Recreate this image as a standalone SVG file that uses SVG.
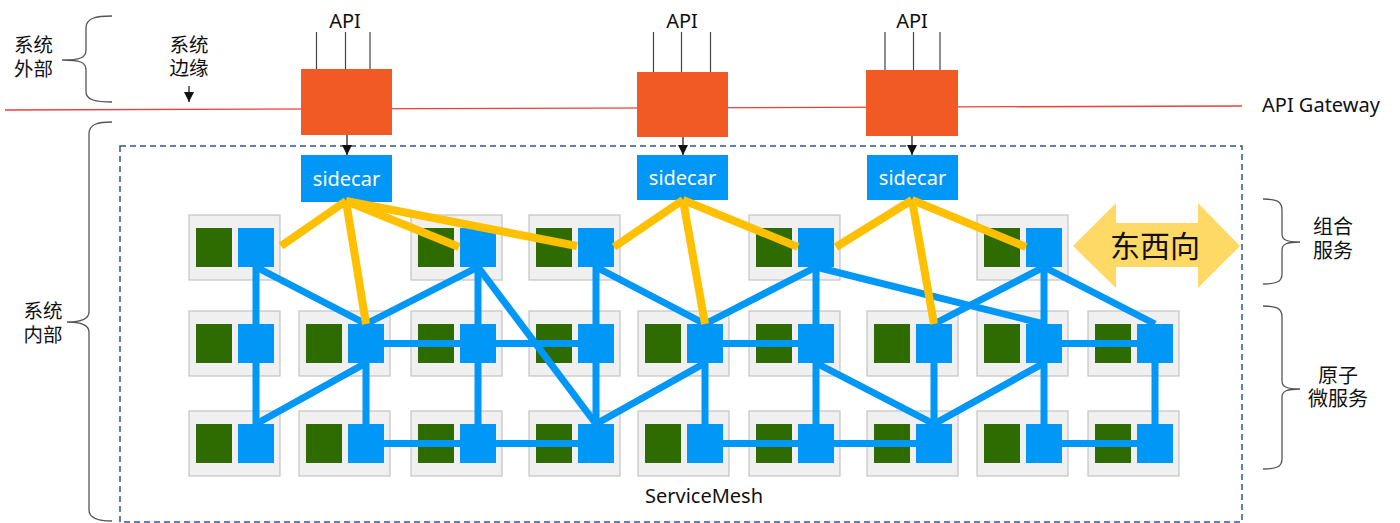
<svg xmlns="http://www.w3.org/2000/svg" width="1400" height="523" viewBox="0 0 1400 523">
<defs>
<marker id="ah" viewBox="0 0 10 10" refX="10" refY="5" markerWidth="10" markerHeight="10" markerUnits="userSpaceOnUse" orient="auto">
<path d="M0,0 L10,5 L0,10 Z" fill="#111"/>
</marker>
</defs>
<style>
.cjk{font-family:"Liberation Sans","Noto Sans CJK SC",sans-serif;fill:#111;}
.lat{font-family:"Noto Sans","Open Sans","Liberation Sans",sans-serif;fill:#111;}
.cell{fill:#F0F0F0;stroke:#C4C4C4;stroke-width:1.2;}
.gr{fill:#2E6B00;}
.bl{fill:#0097F6;}
.gw{fill:#F15A24;}
.sc{fill:#0097F6;}
.brace{fill:none;stroke:#555;stroke-width:1.3;}
.bline{stroke:#0097F6;stroke-width:7;fill:none;}
.yline{stroke:#FFC000;stroke-width:8;fill:none;}
.api{stroke:#444;stroke-width:1.2;}
.arr{stroke:#111;stroke-width:1.2;marker-end:url(#ah);}
</style>
<rect width="1400" height="523" fill="#fff"/>

<!-- service mesh boundary -->
<g id="servicemesh">
<rect x="120" y="146" width="1122" height="376" fill="none" stroke="#2F5597" stroke-width="1.5" stroke-dasharray="6 4"/>
<text class="lat" x="704" y="503" font-size="20" text-anchor="middle">ServiceMesh</text>
</g>

<!-- gateway line -->
<g id="gateway-line">
<line x1="5" y1="110" x2="1242" y2="106" stroke="#F03C3C" stroke-width="1.3"/>
<text class="lat" x="1262" y="112" font-size="20">API Gateway</text>
</g>

<!-- left labels -->
<g id="label-outside">
<path class="brace" d="M112,16 C96,16 86,18 86,28 L86,50 C86,58 80,60 62,60 C80,60 86,62 86,70 L86,92 C86,100 96,102 112,102"/>
<text class="cjk" x="33.5" y="52" font-size="19.5" text-anchor="middle">系统</text>
<text class="cjk" x="33.5" y="76" font-size="19.5" text-anchor="middle">外部</text>
</g>
<g id="label-edge">
<text class="cjk" x="189" y="52" font-size="19.5" text-anchor="middle">系统</text>
<text class="cjk" x="189" y="75" font-size="19.5" text-anchor="middle">边缘</text>
<line class="arr" x1="189" y1="86" x2="189" y2="102"/>
</g>
<g id="label-inside">
<path class="brace" d="M112,122 C98,122 89,124 89,134 L89,312 C89,319 82,322 67,322 C82,322 89,325 89,332 L89,510 C89,518 98,521 112,521"/>
<text class="cjk" x="43" y="318" font-size="19.5" text-anchor="middle">系统</text>
<text class="cjk" x="43" y="342" font-size="19.5" text-anchor="middle">内部</text>
</g>

<!-- right labels -->
<g id="label-composite">
<path class="brace" d="M1263,199 C1276,199 1282,201 1282,210 L1282,234 C1282,240 1287,242 1300,242 C1287,242 1282,244 1282,250 L1282,274 C1282,282 1276,284 1263,284"/>
<text class="cjk" x="1333" y="234" font-size="20" text-anchor="middle">组合</text>
<text class="cjk" x="1333" y="258" font-size="20" text-anchor="middle">服务</text>
</g>
<g id="label-atomic">
<path class="brace" d="M1263,306 C1276,306 1282,308 1282,317 L1282,381 C1282,387 1287,389 1300,389 C1287,389 1282,391 1282,397 L1282,459 C1282,467 1276,469 1263,469"/>
<text class="cjk" x="1338" y="383" font-size="20" text-anchor="middle">原子</text>
<text class="cjk" x="1338" y="406" font-size="20" text-anchor="middle">微服务</text>
</g>

<!-- east-west arrow -->
<g id="east-west">
<polygon points="1073,246 1116,203 1116,223 1198,223 1198,203 1240,246 1198,288 1198,267 1116,267 1116,288" fill="#FFD966"/>
<text class="cjk" x="1155" y="257" font-size="30" text-anchor="middle">东西向</text>
</g>

<!-- gateways -->
<g id="gateway1"><rect class="gw" x="301" y="69" width="91" height="66"/><text class="lat" x="345" y="28" font-size="20" text-anchor="middle">API</text></g>
<g id="gateway2"><rect class="gw" x="637" y="72" width="91" height="65"/><text class="lat" x="682" y="28" font-size="20" text-anchor="middle">API</text></g>
<g id="gateway3"><rect class="gw" x="866" y="70" width="92" height="66"/><text class="lat" x="912" y="28" font-size="20" text-anchor="middle">API</text></g>

<!-- sidecars -->
<g id="sidecar1"><rect class="sc" x="301" y="155" width="91" height="47"/><text class="lat" x="346.5" y="186" font-size="20" style="fill:#fff" text-anchor="middle">sidecar</text></g>
<g id="sidecar2"><rect class="sc" x="637" y="155" width="91" height="45"/><text class="lat" x="682.5" y="185" font-size="20" style="fill:#fff" text-anchor="middle">sidecar</text></g>
<g id="sidecar3"><rect class="sc" x="867" y="155" width="91" height="45"/><text class="lat" x="912.5" y="185" font-size="20" style="fill:#fff" text-anchor="middle">sidecar</text></g>

<!-- service cells row 1 -->
<g id="r1c0"><rect class="cell" x="189" y="215" width="91" height="65"/><rect class="gr" x="196" y="228" width="36" height="39"/><rect class="bl" x="238" y="228" width="36" height="39"/></g>
<g id="r1c2"><rect class="cell" x="411" y="215" width="91" height="65"/><rect class="gr" x="418" y="228" width="36" height="39"/><rect class="bl" x="460" y="228" width="36" height="39"/></g>
<g id="r1c3"><rect class="cell" x="529" y="215" width="91" height="65"/><rect class="gr" x="536" y="228" width="36" height="39"/><rect class="bl" x="578" y="228" width="36" height="39"/></g>
<g id="r1c5"><rect class="cell" x="749" y="215" width="91" height="65"/><rect class="gr" x="756" y="228" width="36" height="39"/><rect class="bl" x="798" y="228" width="36" height="39"/></g>
<g id="r1c7"><rect class="cell" x="977" y="215" width="91" height="65"/><rect class="gr" x="984" y="228" width="36" height="39"/><rect class="bl" x="1026" y="228" width="36" height="39"/></g>

<!-- row 2 -->
<g id="r2c0"><rect class="cell" x="189" y="311" width="91" height="65"/><rect class="gr" x="196" y="324" width="36" height="39"/><rect class="bl" x="238" y="324" width="36" height="39"/></g>
<g id="r2c1"><rect class="cell" x="299" y="311" width="91" height="65"/><rect class="gr" x="306" y="324" width="36" height="39"/><rect class="bl" x="348" y="324" width="36" height="39"/></g>
<g id="r2c2"><rect class="cell" x="411" y="311" width="91" height="65"/><rect class="gr" x="418" y="324" width="36" height="39"/><rect class="bl" x="460" y="324" width="36" height="39"/></g>
<g id="r2c3"><rect class="cell" x="529" y="311" width="91" height="65"/><rect class="gr" x="536" y="324" width="36" height="39"/><rect class="bl" x="578" y="324" width="36" height="39"/></g>
<g id="r2c4"><rect class="cell" x="638" y="311" width="91" height="65"/><rect class="gr" x="645" y="324" width="36" height="39"/><rect class="bl" x="687" y="324" width="36" height="39"/></g>
<g id="r2c5"><rect class="cell" x="749" y="311" width="91" height="65"/><rect class="gr" x="756" y="324" width="36" height="39"/><rect class="bl" x="798" y="324" width="36" height="39"/></g>
<g id="r2c6"><rect class="cell" x="867" y="311" width="91" height="65"/><rect class="gr" x="874" y="324" width="36" height="39"/><rect class="bl" x="916" y="324" width="36" height="39"/></g>
<g id="r2c7"><rect class="cell" x="977" y="311" width="91" height="65"/><rect class="gr" x="984" y="324" width="36" height="39"/><rect class="bl" x="1026" y="324" width="36" height="39"/></g>
<g id="r2c8"><rect class="cell" x="1088" y="311" width="91" height="65"/><rect class="gr" x="1095" y="324" width="36" height="39"/><rect class="bl" x="1137" y="324" width="36" height="39"/></g>

<!-- row 3 -->
<g id="r3c0"><rect class="cell" x="189" y="411" width="91" height="65"/><rect class="gr" x="196" y="424" width="36" height="39"/><rect class="bl" x="238" y="424" width="36" height="39"/></g>
<g id="r3c1"><rect class="cell" x="299" y="411" width="91" height="65"/><rect class="gr" x="306" y="424" width="36" height="39"/><rect class="bl" x="348" y="424" width="36" height="39"/></g>
<g id="r3c2"><rect class="cell" x="411" y="411" width="91" height="65"/><rect class="gr" x="418" y="424" width="36" height="39"/><rect class="bl" x="460" y="424" width="36" height="39"/></g>
<g id="r3c3"><rect class="cell" x="529" y="411" width="91" height="65"/><rect class="gr" x="536" y="424" width="36" height="39"/><rect class="bl" x="578" y="424" width="36" height="39"/></g>
<g id="r3c4"><rect class="cell" x="638" y="411" width="91" height="65"/><rect class="gr" x="645" y="424" width="36" height="39"/><rect class="bl" x="687" y="424" width="36" height="39"/></g>
<g id="r3c5"><rect class="cell" x="749" y="411" width="91" height="65"/><rect class="gr" x="756" y="424" width="36" height="39"/><rect class="bl" x="798" y="424" width="36" height="39"/></g>
<g id="r3c6"><rect class="cell" x="867" y="411" width="91" height="65"/><rect class="gr" x="874" y="424" width="36" height="39"/><rect class="bl" x="916" y="424" width="36" height="39"/></g>
<g id="r3c7"><rect class="cell" x="977" y="411" width="91" height="65"/><rect class="gr" x="984" y="424" width="36" height="39"/><rect class="bl" x="1026" y="424" width="36" height="39"/></g>
<g id="r3c8"><rect class="cell" x="1088" y="411" width="91" height="65"/><rect class="gr" x="1095" y="424" width="36" height="39"/><rect class="bl" x="1137" y="424" width="36" height="39"/></g>

<!-- connectors -->
<g id="connectors">
<g id="api-inputs" class="api">
<line x1="316.5" y1="32" x2="316.5" y2="69"/><line x1="345.5" y1="32" x2="345.5" y2="69"/><line x1="370" y1="32" x2="370" y2="69"/>
<line x1="653.5" y1="32" x2="653.5" y2="72"/><line x1="681.5" y1="32" x2="681.5" y2="72"/><line x1="710.5" y1="32" x2="710.5" y2="72"/>
<line x1="885" y1="32" x2="885" y2="70"/><line x1="913.5" y1="32" x2="913.5" y2="70"/><line x1="940" y1="32" x2="940" y2="70"/>
</g>
<g id="gw-to-sidecar">
<line class="arr" x1="347" y1="135" x2="347" y2="155"/>
<line class="arr" x1="683" y1="137" x2="683" y2="155"/>
<line class="arr" x1="912" y1="136" x2="912" y2="155"/>
</g>
<g id="mesh-links" class="bline">
<line x1="256" y1="247" x2="256" y2="443.5"/>
<line x1="366" y1="343.5" x2="366" y2="443.5"/>
<line x1="478" y1="247" x2="478" y2="443.5"/>
<line x1="596" y1="247" x2="596" y2="443.5"/>
<line x1="705" y1="343.5" x2="705" y2="443.5"/>
<line x1="816" y1="247" x2="816" y2="443.5"/>
<line x1="934" y1="343.5" x2="934" y2="443.5"/>
<line x1="1044" y1="247" x2="1044" y2="443.5"/>
<line x1="1155" y1="343.5" x2="1155" y2="443.5"/>
<line x1="366" y1="343.5" x2="596" y2="343.5"/>
<line x1="705" y1="343.5" x2="816" y2="343.5"/>
<line x1="1044" y1="343.5" x2="1155" y2="343.5"/>
<line x1="366" y1="443.5" x2="596" y2="443.5"/>
<line x1="705" y1="443.5" x2="934" y2="443.5"/>
<line x1="1044" y1="443.5" x2="1155" y2="443.5"/>
<line x1="256" y1="267" x2="366" y2="324"/>
<line x1="256" y1="424" x2="366" y2="363"/>
<line x1="366" y1="324" x2="478" y2="267"/>
<line x1="478" y1="267" x2="596" y2="424"/>
<line x1="596" y1="424" x2="705" y2="363"/>
<line x1="596" y1="267" x2="705" y2="324"/>
<line x1="705" y1="324" x2="816" y2="267"/>
<line x1="816" y1="363" x2="934" y2="424"/>
<line x1="934" y1="324" x2="1044" y2="267"/>
<line x1="934" y1="424" x2="1044" y2="363"/>
<line x1="1044" y1="267" x2="1155" y2="324"/>
<line x1="816" y1="267" x2="1044" y2="324"/>
</g>
<g id="sidecar-links" class="yline">
<line x1="346" y1="201" x2="281" y2="246"/>
<line x1="346" y1="201" x2="366" y2="324"/>
<line x1="346" y1="201" x2="459" y2="247"/>
<line x1="346" y1="201" x2="577" y2="246"/>
<line x1="683" y1="200" x2="614" y2="247"/>
<line x1="683" y1="200" x2="705" y2="324"/>
<line x1="683" y1="200" x2="798" y2="247"/>
<line x1="912" y1="200" x2="836" y2="247"/>
<line x1="912" y1="200" x2="934" y2="324"/>
<line x1="912" y1="200" x2="1026" y2="247"/>
</g>
</g>
</svg>
